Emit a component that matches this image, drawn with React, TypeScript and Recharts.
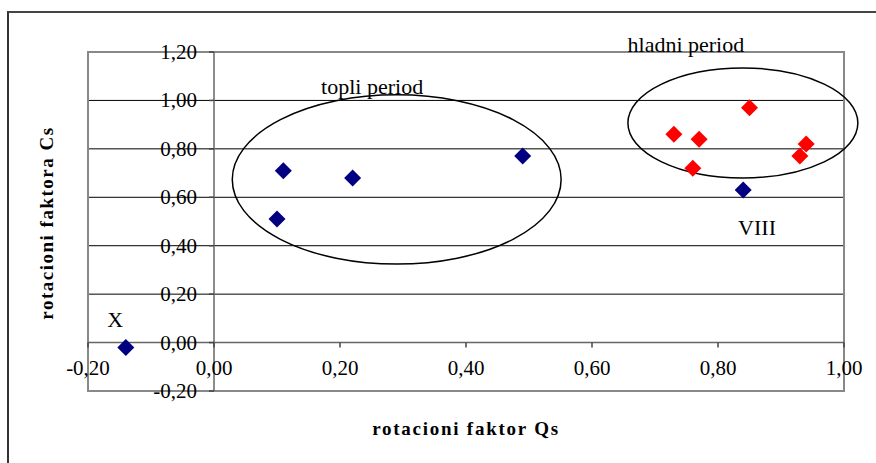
import {
  CartesianGrid,
  ReferenceArea,
  ReferenceDot,
  ReferenceLine,
  Scatter,
  ScatterChart,
  XAxis,
  YAxis,
} from 'recharts'

// Qs (x) vs Cs (y)
const bluePoints = [
  { x: -0.14, y: -0.02 },
  { x: 0.1, y: 0.51 },
  { x: 0.11, y: 0.71 },
  { x: 0.22, y: 0.68 },
  { x: 0.49, y: 0.77 },
  { x: 0.84, y: 0.63 },
]

const redPoints = [
  { x: 0.85, y: 0.97 },
  { x: 0.73, y: 0.86 },
  { x: 0.77, y: 0.84 },
  { x: 0.76, y: 0.72 },
  { x: 0.94, y: 0.82 },
  { x: 0.93, y: 0.77 },
]

const xTicks = [-0.2, 0, 0.2, 0.4, 0.6, 0.8, 1.0]
const yTicks = [-0.2, 0, 0.2, 0.4, 0.6, 0.8, 1.0, 1.2]
const gridValues = [0.2, 0.4, 0.6, 0.8, 1.0]

// ellipses drawn around the groups
const warmEllipse = { x1: 0.029, x2: 0.551, y1: 0.324, y2: 1.023 }
const coldEllipse = { x1: 0.657, x2: 1.022, y1: 0.68, y2: 1.134 }

const notes = [
  { text: 'topli period', x: 0.251, y: 1.056 },
  { text: 'hladni period', x: 0.749, y: 1.229 },
  { text: 'VIII', x: 0.862, y: 0.477 },
  { text: 'X', x: -0.157, y: 0.097 },
]

const FONT = 'Liberation Serif'
const fmt = (v: number) => v.toFixed(2).replace('.', ',')

const diamond = (color: string) => (p: any) => {
  const { cx, cy } = p
  const r = 8.5
  return (
    <polygon
      points={`${cx},${cy - r} ${cx + r},${cy} ${cx},${cy + r} ${cx - r},${cy}`}
      fill={color}
    />
  )
}

const ellipseShape = (p: any) => {
  const w = Math.abs(p.width)
  const h = Math.abs(p.height)
  const x = Math.min(p.x, p.x + p.width)
  const y = Math.min(p.y, p.y + p.height)
  return (
    <ellipse
      cx={x + w / 2}
      cy={y + h / 2}
      rx={w / 2}
      ry={h / 2}
      fill="none"
      stroke="#000"
      strokeWidth={1.5}
    />
  )
}

export default function App() {
  return (
    <div
      style={{
        position: 'absolute',
        left: 0,
        top: 0,
        width: 876,
        height: 463,
        overflow: 'hidden',
        background: '#fff',
        fontFamily: FONT,
      }}
    >
      <div
        style={{
          position: 'absolute',
          left: 7,
          top: 11,
          width: 1000,
          height: 1000,
          borderLeft: '2px solid #333',
          borderTop: '2px solid #444',
        }}
      />
      <ScatterChart
        width={876}
        height={463}
        margin={{ top: 52, right: 32, bottom: 72, left: 88 }}
        style={{ position: 'absolute', left: 0, top: 0, fontFamily: FONT }}
      >
        <XAxis type="number" dataKey="x" domain={[-0.2, 1.0]} ticks={xTicks} allowDataOverflow hide />
        <YAxis type="number" dataKey="y" domain={[-0.2, 1.2]} ticks={yTicks} allowDataOverflow hide />
        <CartesianGrid vertical={false} horizontalValues={gridValues} stroke="#000" strokeWidth={1} />
        <ReferenceArea
          x1={-0.2}
          x2={1.0}
          y1={-0.2}
          y2={1.2}
          fill="none"
          fillOpacity={0}
          stroke="#888"
          strokeWidth={2}
        />
        <ReferenceLine y={0} stroke="#666" strokeWidth={1.5} />
        <ReferenceLine x={0} stroke="#666" strokeWidth={1.5} />
        {yTicks.map((v) => (
          <ReferenceDot
            key={'y' + v}
            x={0}
            y={v}
            r={0}
            ifOverflow="visible"
            shape={(p: any) => (
              <g>
                <line x1={p.cx - 5} x2={p.cx} y1={p.cy} y2={p.cy} stroke="#444" strokeWidth={1.5} />
                <text
                  x={p.cx - 17}
                  y={p.cy}
                  textAnchor="end"
                  dominantBaseline="central"
                  style={{ fontFamily: FONT }}
                  fontSize={21}
                  fill="#000"
                >
                  {fmt(v)}
                </text>
              </g>
            )}
          />
        ))}
        {xTicks.map((v) => (
          <ReferenceDot
            key={'x' + v}
            x={v}
            y={0}
            r={0}
            ifOverflow="visible"
            shape={(p: any) => (
              <g>
                <line x1={p.cx} x2={p.cx} y1={p.cy} y2={p.cy + 5} stroke="#444" strokeWidth={1.5} />
                <text
                  x={p.cx}
                  y={p.cy + 32}
                  textAnchor="middle"
                  style={{ fontFamily: FONT }}
                  fontSize={21}
                  fill="#000"
                >
                  {fmt(v)}
                </text>
              </g>
            )}
          />
        ))}
        <ReferenceArea {...warmEllipse} ifOverflow="visible" shape={ellipseShape} />
        <ReferenceArea {...coldEllipse} ifOverflow="visible" shape={ellipseShape} />
        {notes.map((n) => (
          <ReferenceDot
            key={n.text}
            x={n.x}
            y={n.y}
            r={0}
            ifOverflow="visible"
            shape={(p: any) => (
              <text
                x={p.cx}
                y={p.cy}
                textAnchor="middle"
                dominantBaseline="central"
                style={{ fontFamily: FONT }}
                fontSize={22}
                fill="#000"
              >
                {n.text}
              </text>
            )}
          />
        ))}
        <Scatter data={bluePoints} shape={diamond('#000080')} isAnimationActive={false} />
        <Scatter data={redPoints} shape={diamond('#FF0000')} isAnimationActive={false} />
      </ScatterChart>
      <div
        style={{
          position: 'absolute',
          left: 466,
          top: 429,
          transform: 'translate(-50%, -50%)',
          whiteSpace: 'nowrap',
          fontWeight: 'bold',
          fontSize: 19,
          letterSpacing: 1.75,
        }}
      >
        rotacioni faktor Qs
      </div>
      <div
        style={{
          position: 'absolute',
          left: 47,
          top: 223,
          transform: 'translate(-50%, -50%) rotate(-90deg)',
          whiteSpace: 'nowrap',
          fontWeight: 'bold',
          fontSize: 19,
          letterSpacing: 1.5,
        }}
      >
        rotacioni faktora Cs
      </div>
    </div>
  )
}
